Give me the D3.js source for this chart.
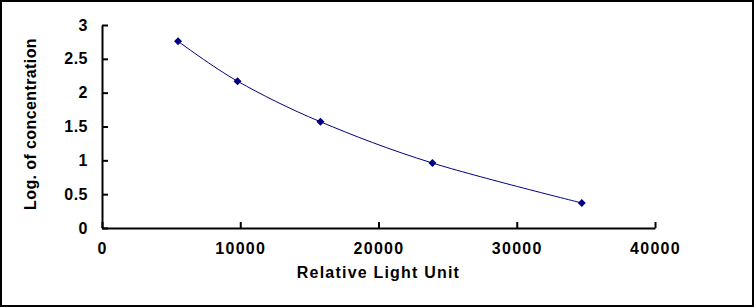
<!DOCTYPE html>
<html lang="en">
<head>
<meta charset="UTF-8">
<title>Standard curve</title>
<script src="https://d3js.org/d3.v7.min.js"></script>
<style>
  body { margin: 0; background: #fff; }
  text { font-family: Arial, "Liberation Sans", sans-serif; font-weight: bold; fill: #000; }
</style>
</head>
<body>
<div id="chart"></div>
<script>
// values
var rlu = [5500, 9800, 15800, 23900, 34700];
var logConc = [2.76, 2.17, 1.57, 0.96, 0.37];
var xTicks = [0, 10000, 20000, 30000, 40000];
var yTicks = [0, 0.5, 1, 1.5, 2, 2.5, 3];

var W = 754, H = 307;
var margin = { top: 25, right: 99, bottom: 79, left: 102 };

var svg = d3.select("#chart").append("svg")
  .attr("width", W)
  .attr("height", H);

svg.append("rect")
  .attr("x", 1).attr("y", 1)
  .attr("width", W - 2).attr("height", H - 2)
  .attr("fill", "#fff")
  .attr("stroke", "#000")
  .attr("stroke-width", 2);

var x = d3.scaleLinear().domain([0, 40000]).range([margin.left, W - margin.right]);
var y = d3.scaleLinear().domain([0, 3]).range([H - margin.bottom, margin.top]);

var data = rlu.map(function (d, i) { return { x: d, y: logConc[i] }; });

// both axes have their ticks pointing into the plot
var xAxis = svg.append("g")
  .attr("transform", "translate(0," + y(0) + ")")
  .call(d3.axisBottom(x).tickValues(xTicks).tickSizeInner(-6).tickSizeOuter(0).tickPadding(15).tickFormat(d3.format("d")));
xAxis.selectAll("line").attr("stroke", "#000").attr("stroke-width", 2);
xAxis.select(".domain").attr("stroke", "#000").attr("stroke-width", 2);
xAxis.selectAll("text").attr("font-size", 16).attr("letter-spacing", "1.3px").attr("dy", "0.71em");

var yAxis = svg.append("g")
  .attr("transform", "translate(" + x(0) + ",0)")
  .call(d3.axisLeft(y).tickValues(yTicks).tickSizeInner(-6).tickSizeOuter(0).tickPadding(14).tickFormat(function (d) { return d; }));
yAxis.selectAll("line").attr("stroke", "#000").attr("stroke-width", 2);
yAxis.select(".domain").attr("stroke", "#000").attr("stroke-width", 2);
yAxis.selectAll("text").attr("font-size", 16).attr("letter-spacing", "0.5px");

svg.append("text")
  .attr("x", (x(0) + x(40000)) / 2)
  .attr("y", 278)
  .attr("text-anchor", "middle")
  .attr("font-size", 16)
  .attr("letter-spacing", "1.2px")
  .text("Relative Light Unit");

svg.append("text")
  .attr("transform", "translate(36," + 124 + ") rotate(-90)")
  .attr("text-anchor", "middle")
  .attr("font-size", 16)
  .attr("letter-spacing", "0.4px")
  .text("Log. of concentration");

var line = d3.line()
  .curve(d3.curveCatmullRom.alpha(0))
  .x(function (d) { return x(d.x); })
  .y(function (d) { return y(d.y); });

svg.append("path")
  .datum(data)
  .attr("fill", "none")
  .attr("stroke", "#000080")
  .attr("stroke-width", 1)
  .attr("d", line);

svg.selectAll(".pt")
  .data(data)
  .enter().append("path")
  .attr("class", "pt")
  .attr("transform", function (d) { return "translate(" + x(d.x) + "," + y(d.y) + ")"; })
  .attr("d", "M0,-4L4,0L0,4L-4,0Z")
  .attr("fill", "#000080");
</script>
</body>
</html>
